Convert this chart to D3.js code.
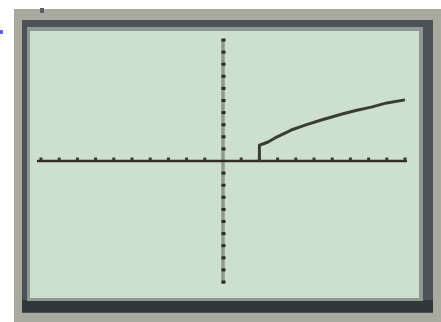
<!DOCTYPE html>
<html>
<head>
<meta charset="utf-8">
<script src="https://cdn.jsdelivr.net/npm/d3@7"></script>
<style>
  html, body { margin: 0; padding: 0; background: #ffffff; }
  svg { display: block; }
</style>
</head>
<body>
<svg id="chart" width="441" height="322"></svg>
<script>
// Window settings of the graphing screen
const xWindow = [-10, 10];
const yWindow = [-10, 10];

// Tick marks every unit along both axes
const xTickValues = d3.range(-10, 11).filter(v => v !== 0);
const yTickValues = d3.range(-10, 11).filter(v => v !== 0);

// Plotted function: x values and y values
const curveX = [2, 2, 2.48, 2.95, 3.75, 4.55, 5.4, 6.55, 7.35, 8.15, 9.0, 10.0];
const curveY = [0, 1.3, 1.57, 1.98, 2.56, 2.98, 3.39, 3.88, 4.2, 4.45, 4.8, 5.05];

const svg = d3.select("#chart");

// Calculator body: outer casing, dark bezel, LCD screen
svg.append("rect").attr("x", 14).attr("y", 9).attr("width", 427).attr("height", 313).attr("fill", "#a8aa9f");
svg.append("rect").attr("x", 40).attr("y", 8).attr("width", 4).attr("height", 5).attr("fill", "#5a6066");
svg.append("rect").attr("x", 0).attr("y", 30).attr("width", 3).attr("height", 4).attr("fill", "#5566ff");

svg.append("rect").attr("x", 22).attr("y", 20).attr("width", 411).attr("height", 293).attr("fill", "#4c5257");
svg.append("rect").attr("x", 22).attr("y", 300).attr("width", 411).attr("height", 12).attr("fill", "#30383b");
svg.append("rect").attr("x", 27).attr("y", 27).attr("width", 396).attr("height", 274).attr("fill", "#8e9893");
svg.append("rect").attr("x", 30).attr("y", 31).attr("width", 389).attr("height", 267).attr("fill", "#cde0d0");

// Scales for the viewing window
const x = d3.scaleLinear().domain(xWindow).range([41, 405]);
const y = d3.scaleLinear().domain(yWindow).range([282, 40]);

const soft = svg.append("defs").append("filter").attr("id", "soft");
soft.append("feGaussianBlur").attr("stdDeviation", 0.45);

const plot = svg.append("g").attr("filter", "url(#soft)");

// Y axis: grey column with dark unit marks
plot.append("line")
  .attr("x1", x(0)).attr("x2", x(0))
  .attr("y1", y(10) - 1).attr("y2", y(-10) + 2)
  .attr("stroke", "#8c9a8e").attr("stroke-width", 3.5);
plot.selectAll(".ytick").data(yTickValues).join("rect")
  .attr("class", "ytick")
  .attr("x", x(0) - 1.5).attr("y", d => y(d) - 1.5)
  .attr("width", 4).attr("height", 3)
  .attr("fill", "#2a2a24");

// X axis: dark line with unit marks
plot.append("line")
  .attr("x1", x(-10) - 4).attr("x2", x(10) + 2)
  .attr("y1", y(0)).attr("y2", y(0))
  .attr("stroke", "#2f2f28").attr("stroke-width", 2.6);
plot.selectAll(".xtick").data(xTickValues).join("rect")
  .attr("class", "xtick")
  .attr("x", d => x(d) - 1.5).attr("y", y(0) - 3.5)
  .attr("width", 3).attr("height", 3)
  .attr("fill", "#3a3a33");

// Graph of the function
const pts = curveX.map((v, i) => [v, curveY[i]]);
plot.append("path")
  .datum(pts)
  .attr("fill", "none")
  .attr("stroke", "#3b3d35")
  .attr("stroke-width", 3)
  .attr("stroke-linejoin", "round")
  .attr("d", d3.line().x(d => x(d[0])).y(d => y(d[1])));
</script>
</body>
</html>
